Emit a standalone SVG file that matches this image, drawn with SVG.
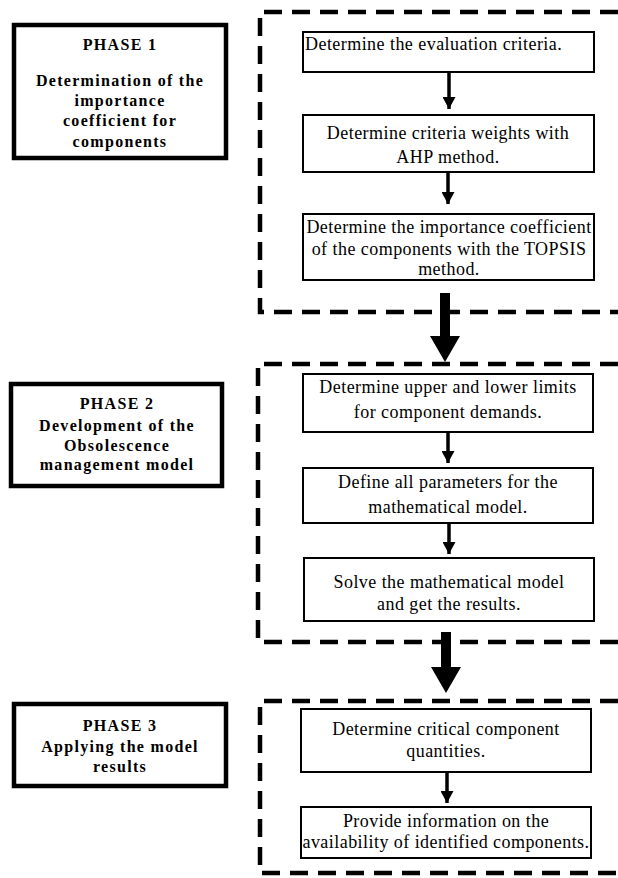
<svg xmlns="http://www.w3.org/2000/svg" width="618" height="878" viewBox="0 0 618 878">
<style>
.phase{fill:#fff;stroke:#000;stroke-width:4.5}
.cont{fill:none;stroke:#000;stroke-width:4.5;stroke-dasharray:18 10}
.node{fill:#fff;stroke:#000;stroke-width:2}
.pt{font-family:"Liberation Serif","Times New Roman",serif;font-weight:bold;font-size:16px;letter-spacing:1.3px;text-anchor:middle;fill:#000}
.nt{font-family:"Liberation Serif","Times New Roman",serif;font-size:18px;letter-spacing:0.45px;text-anchor:middle;fill:#000}
.sa{stroke:#000;stroke-width:3.5;fill:none}
</style>
<defs>
<marker id="ah" markerUnits="userSpaceOnUse" markerWidth="13" markerHeight="13" refX="12" refY="6.5" orient="auto">
<path d="M0,0 L12,6.5 L0,13 Z" fill="#000"/>
</marker>
</defs>
<g id="containers">
<path class="cont" d="M618,12 H260 V312 H618"/>
<path class="cont" d="M618,364 H258 V642 H618"/>
<path class="cont" d="M618,701 H260 V873 H618"/>
</g>
<g id="phase1">
<rect class="phase" x="14" y="25" width="212" height="133"/>
<text class="pt" x="120" y="50">PHASE 1</text>
<text class="pt" x="120" y="86">Determination of the</text>
<text class="pt" x="120" y="106">importance</text>
<text class="pt" x="120" y="126">coefficient for</text>
<text class="pt" x="120" y="147">components</text>
</g>
<g id="phase2">
<rect class="phase" x="11" y="384" width="211" height="102"/>
<text class="pt" x="117" y="409">PHASE 2</text>
<text class="pt" x="117" y="431">Development of the</text>
<text class="pt" x="117" y="451">Obsolescence</text>
<text class="pt" x="117" y="470">management model</text>
</g>
<g id="phase3">
<rect class="phase" x="14" y="704" width="212" height="82"/>
<text class="pt" x="120" y="731">PHASE 3</text>
<text class="pt" x="120" y="752">Applying the model</text>
<text class="pt" x="120" y="772">results</text>
</g>
<g id="n1">
<rect class="node" x="303" y="32" width="291" height="40"/>
<text class="nt" x="305" y="50" style="text-anchor:start">Determine the evaluation criteria.</text>
</g>
<g id="n2">
<rect class="node" x="303" y="115" width="291" height="57"/>
<text class="nt" x="448" y="139">Determine criteria weights with</text>
<text class="nt" x="448" y="163">AHP method.</text>
</g>
<g id="n3">
<rect class="node" x="303" y="214" width="291" height="66"/>
<text class="nt" x="449" y="233">Determine the importance coefficient</text>
<text class="nt" x="449" y="255">of the components with the TOPSIS</text>
<text class="nt" x="449" y="275">method.</text>
</g>
<g id="n4">
<rect class="node" x="303" y="374" width="290" height="58"/>
<text class="nt" x="448" y="393">Determine upper and lower limits</text>
<text class="nt" x="448" y="418">for component demands.</text>
</g>
<g id="n5">
<rect class="node" x="303" y="468" width="290" height="55"/>
<text class="nt" x="448" y="488">Define all parameters for the</text>
<text class="nt" x="448" y="513">mathematical model.</text>
</g>
<g id="n6">
<rect class="node" x="304" y="558" width="290" height="63"/>
<text class="nt" x="449" y="588">Solve the mathematical model</text>
<text class="nt" x="449" y="610">and get the results.</text>
</g>
<g id="n7">
<rect class="node" x="301" y="709" width="290" height="63"/>
<text class="nt" x="446" y="735">Determine critical component</text>
<text class="nt" x="446" y="757">quantities.</text>
</g>
<g id="n8">
<rect class="node" x="301" y="807" width="290" height="51"/>
<text class="nt" x="446" y="827">Provide information on the</text>
<text class="nt" x="446" y="848">availability of identified components.</text>
</g>
<g id="connectors">
<line class="sa" x1="449" y1="73" x2="449" y2="109" marker-end="url(#ah)"/>
<line class="sa" x1="448" y1="173" x2="448" y2="204" marker-end="url(#ah)"/>
<line class="sa" x1="448" y1="433" x2="448" y2="463" marker-end="url(#ah)"/>
<line class="sa" x1="449" y1="524" x2="449" y2="554" marker-end="url(#ah)"/>
<line class="sa" x1="447" y1="773" x2="447" y2="803" marker-end="url(#ah)"/>
<path d="M440,293 H450 V336 H460 L445,362 L430,336 H440 Z" fill="#000"/>
<path d="M441,632 H451 V667 H461 L446,693 L431,667 H441 Z" fill="#000"/>
</g>
</svg>
